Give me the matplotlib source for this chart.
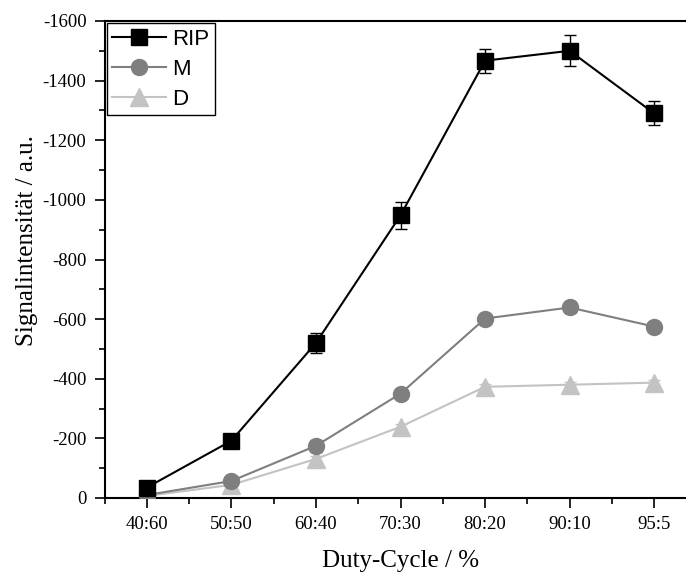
import matplotlib
matplotlib.use("Agg")
import matplotlib.pyplot as plt
from matplotlib.ticker import MultipleLocator, FixedLocator
from matplotlib.lines import Line2D

categories = ["40:60", "50:50", "60:40", "70:30", "80:20", "90:10", "95:5"]
rip = [-35, -192, -520, -948, -1467, -1500, -1290]
rip_err = [20, 10, 35, 45, 40, 52, 40]
m = [-10, -57, -175, -350, -602, -639, -575]
m_err = [8, 12, 20, 12, 10, 20, 10]
d = [-7, -44, -131, -239, -373, -380, -387]
d_err = [5, 8, 10, 8, 8, 8, 8]

W, H = 686, 574
fig = plt.figure(figsize=(W / 100, H / 100), dpi=100)
left, right, top, bottom = 104.5, 696.5, 21, 498
ax = fig.add_axes([left / W, 1 - bottom / H, (right - left) / W, (bottom - top) / H])

x = list(range(len(categories)))
serif = ["Liberation Serif", "DejaVu Serif"]

styles = [
    ("D", d, d_err, "#c3c3c3", "^", 12.5),
    ("M", m, m_err, "#7f7f7f", "o", 11.5),
    ("RIP", rip, rip_err, "black", "s", 11.5),
]
handles = {}
for z, (lab, vals, err, col, mk, ms) in enumerate(styles):
    ax.errorbar(x, vals, yerr=err, color=col, marker=mk, markersize=ms,
                linewidth=1.5, capsize=4, elinewidth=1, zorder=2 + z)
    handles[lab] = Line2D([], [], color=col, marker=mk, markersize=ms, linewidth=1.5)

ax.set_ylim(0, -1600)
ax.set_xlim(-0.5, 6.5)
ax.set_xticks(x)
ax.set_xticklabels(categories, fontfamily=serif, fontsize=13.5)
ax.xaxis.set_minor_locator(FixedLocator([i + 0.5 for i in range(-1, 7)]))
ax.yaxis.set_minor_locator(MultipleLocator(100))
ax.set_yticks([0, -200, -400, -600, -800, -1000, -1200, -1400, -1600])
ax.set_yticklabels(["0", "-200", "-400", "-600", "-800", "-1000", "-1200", "-1400", "-1600"],
                   fontfamily=serif, fontsize=13.5)
ax.tick_params(which="major", direction="out", length=7, width=1.2, pad=6)
ax.tick_params(which="minor", direction="out", length=4, width=1.2)
for s in ax.spines.values():
    s.set_linewidth(1.5)

ax.set_xlabel("Duty-Cycle / %", fontfamily=serif, fontsize=18, labelpad=12)
ax.set_ylabel("Signalintensität / a.u.", fontfamily=serif, fontsize=18)
ax.yaxis.set_label_coords(-0.112, 0.54)

leg = ax.legend([handles["RIP"], handles["M"], handles["D"]], ["RIP", "M", "D"],
                loc="upper left", frameon=True, fancybox=False,
                edgecolor="black", framealpha=1, borderaxespad=0.1,
                prop={"family": "Liberation Sans", "size": 16},
                handlelength=2.4, handletextpad=0.3, labelspacing=0.4, borderpad=0.25)
leg.get_frame().set_linewidth(1.0)

fig.savefig("out.png", dpi=100)
